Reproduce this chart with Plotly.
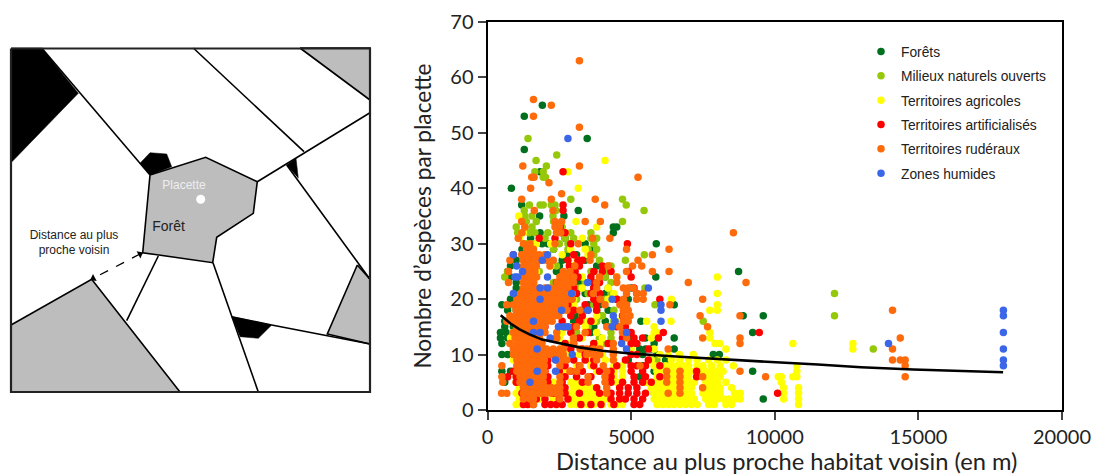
import plotly.graph_objects as go

# ---- scatter values: {species count per plot: [distances in m]} ----
forets = {
 55:[1910],53:[1280],49:[3470],47:[1280],43:[1830],40:[830],37:[1190],36:[3160],35:[1815,2660],
 33:[4380,4500],32:[4380,1830,2600],31:[1500,2700],30:[5875,2100,3400,1900],29:[1200,2300,3700],28:[1500,2750,3100],
 27:[2600,3400,1000],26:[2500,3800,800],25:[8740,700,2400,3700],24:[5860,800,3000,4100],23:[1000,2450,3200],
 22:[1000,3700,5000],21:[1000,3400,4100],20:[4000,4500,4900,800],19:[6500,500,900,3500,3900],18:[700,3300,4200,1000],
 17:[8900,9600,3100,3900],16:[5340,3000,4100,600],15:[600,900,3700,4200],14:[9230,450,650,3600,4900],
 13:[6500,450,700,3900,5000,5500],12:[5100,5800,500,800,3800],11:[5700,5500,5300,6500],10:[500,700,7860,8070,5400,5900],
 9:[5700,6200,4900],8:[5400,6000],7:[9230,500,800,5800],6:[6000,5300],5:[6000,600],4:[6100],3:[6000],2:[9600],
}
milieux = {
 49:[1410],46:[2410],45:[1690],44:[2050],43:[1650,1940],42:[1940,2020],38:[2900,4700],37:[1460,1830,1940,2220,2350,4830],
 36:[1280,2380,5450],35:[2280,1300,1550],34:[4700,1350,2300,1700],33:[1000,1300,1550,2400,2600],32:[1050,1450,1650,2100,2900,3600],
 31:[1100,2000,2700,3000,3600,3800],30:[1350,1600,2500,2800,3700],29:[1500,2300,2800,3500,3800],28:[1300,1600,2000,5460,3700],
 27:[1250,1500,1800,3900,4800],26:[4200,4300,2400],25:[1600,1800,3600,4200,700],24:[600,1400,2700,4100],23:[2300,3400,4300],
 22:[5480,3200,4200],21:[4300,3500,12080],20:[3100,4100],19:[5830,3700,1300],18:[3000,4400,3800],17:[4000,12080],16:[7510,3800,4400,3300],
 15:[4300,3500],14:[4300,3100],13:[3900,4300],12:[4100,3700],11:[13430,3600],10:[4000],9:[5900],5:[6200,5500],3:[5800,6000],
}
agricoles = {
 45:[4090],43:[2800],40:[3160],35:[1085],34:[3080],33:[3800],32:[2700,1250],31:[1100,3300],30:[2200,1700],29:[2900,3400],28:[3500,2600],
 27:[1300,3100],26:[2200,3000],25:[1700,4000],24:[8000,1500,3300,4500],23:[2500,3800],22:[1800,3300,4200],21:[8000,1600,4400,2500],
 20:[6400,3000,2700,4200],19:[8000,2600,2800,3000],18:[7740,8000,1500,2200],17:[1700,3300,3800,4700],16:[6390,5540,3500,3700,2000,4600],
 15:[3400,2900,5800],14:[7740,2600,3800,5800,5900,900,1000],13:[7740,800,2500,3300,4000,5700],12:[7920,8090,10630,12720,2800,3900,900],
 11:[8300,12720,2600,3800,5000,5800],10:[6680,7160,2800,3200,3700,4000,6000,6300],9:[8300,6400,6700,7000,7300,7700,8000,3500,4100,4400,5700,900],
 8:[8560,1200,3100,3600,4400,4700,5800,6000,6200,6400,6600,6800,7000,7300,7500,7800,8100,10770],
 7:[1100,2700,3800,4400,4700,5900,6000,6200,6400,6600,6800,7000,7200,7400,7600,7800,8000,8200,10770],
 6:[1000,2100,3100,4400,4700,5900,6200,6400,6600,6800,7000,7300,7500,7700,7900,8100,10120,10230,10630,10770],
 5:[1000,1300,2300,2900,3100,3500,4500,4700,5500,5800,6000,6200,6400,6600,6800,7000,7200,7600,7800,8000,8300,10230],
 4:[1100,2100,2500,3000,3200,3400,3600,3800,4600,5700,5900,6100,6300,6500,6700,6900,7100,7500,7700,7900,8100,8500,10310,10830],
 3:[1000,2000,2800,3000,3200,3400,3600,3800,4100,5800,5900,6100,6300,6500,6700,6900,7100,7500,7700,7900,8100,8600,8800,10310,10830],
 2:[1100,1800,2300,3000,3200,3400,3600,3800,4000,4200,4600,5800,6000,6200,6400,6600,6800,7000,7200,7600,7800,8000,8200,8400,8600,8800,10310,10830],
 1:[1000,1200,1500,2400,2900,3100,3300,3500,3700,4000,4300,4500,4700,5900,6100,6300,6500,6700,6900,7100,7300,7700,7900,8300,8500,10830],
}
artificialises = {
 43:[2630],37:[2630],36:[2630],33:[2530],32:[2700],31:[1800,2350],30:[4870,2900],28:[900,3000],27:[2800,3150,3300],26:[2850,3200,4000],
 25:[3050,3700,4000,4300,4900],24:[2900,3150,3600,5000],23:[2400,2950,3700,3900],22:[3000,3700,5100],21:[3100,3600,3900,5200],
 20:[6000,2900,3700,4500],19:[2800,3400,3800],18:[2100,3000,3500,3800],17:[2300,2900,3300,4700],16:[2600,3200,3600],
 15:[2000,2700,3000,4500,4800],14:[6120,2900,3500,5000,9460],13:[5950,2400,3200,4700,5100,5400],12:[2700,3000,3700,4200,5000,5200],
 11:[1900,2900,3300,3600,5600],10:[2300,2600,3400,3700,5000,5200],9:[1950,2100,3000,3400,3700,4800,5600],
 8:[1700,2100,2700,3200,3700,4500,5000,5200,5500,6000],7:[900,1000,2000,2500,2900,3300,3900,4300,5000,5400,7280],
 6:[700,1000,2100,2700,3100,3600,4300,5100,5500,6000,7280],5:[1000,2100,2600,3300,4300,4700,5100,5400,5700],
 4:[2200,2700,3800,4600,4900,5200],3:[1200,1600,1900,2300,2700,3200,3900,4300,4600,4900,5200,5500,10100],
 2:[1300,1500,1700,2000,2500,2800,4300,4600,4800,5100,5400],1:[1250,1400,1600,2000,2200,2400,2600,3250,3600,3950,4400,5100,5300],
}
ruderaux = {
 63:[3200],56:[1600],55:[2220],53:[1600],51:[3200],44:[1230,3200],42:[1540,1620,5240],41:[2140],40:[1500],39:[2580],
 38:[1190,2220,3750],37:[4080],36:[1630,2280],34:[1190,2350,2580,3400,3930],33:[1300,2350,2500],32:[1200,2400,2550,8560],
 31:[1070,3660,4260],30:[1250,1480,2350,3160],29:[1360,1600,4840,6320],28:[1190,1350,1500,1650,1800,2000,5740,3600],
 27:[780,1250,1450,1650,1850,2050,2290,3570,5240],26:[1250,1370,1480,1700,2175,3040,4200,5050,5370],
 25:[730,1250,1370,1480,1650,2640,2870,4840,5740,6320],24:[1250,1370,1480,1710,2520,2750,3000,3900,4500],
 23:[730,1250,1430,1610,2420,2640,2850,2990,3800,4500,6990,9000],
 22:[1250,1420,1600,1800,2000,2175,2350,2520,2640,2800,3800,4730,4900,5075],
 21:[1150,1330,1500,1680,1850,2000,2150,2350,2550,2750,2950,3680,4840,5190,5420],
 20:[1020,1180,1350,1520,1680,1830,2000,2150,2300,2480,2650,2800,2950,3920,4730,5190,5420,7490],
 19:[670,900,1100,1260,1420,1580,1740,1900,2060,2220,2380,2540,2700,4090,4610,4840,6350],
 18:[1000,1170,1330,1500,1660,1820,1980,2140,2300,2460,2620,2760,3220,4730,4900,14100],
 17:[780,1000,1170,1340,1500,1670,1840,2000,2170,2330,2480,4730,4960,7400,8790],
 16:[670,900,1080,1250,1420,1590,1750,1920,2080,2250,4730,4900],
 15:[1020,1180,1340,1500,1660,1820,1980,2760,3100,4150,4600,7660],
 14:[900,1060,1220,1380,1540,1700,2000,2410,3400,4700],
 13:[960,1130,1300,1470,1640,1810,2410,2990,4840,7490,8790,14370],
 12:[780,1020,1180,1350,1520,1690,1900,2990,4380,8790],
 11:[900,1060,1220,1380,1540,1700,1860,2060,2290,2520,2640,3220,3450,3680,3910,4380,6290,14100],
 10:[900,1060,1220,1380,1540,1700,1860,2000,2180,2410,2640,3450,3680,3910,4380],
 9:[1020,1180,1340,1500,1660,1820,1980,2410,2640,2760,3800,4380,14100,14370,14540],
 8:[500,1020,1180,1340,1500,1660,1820,1980,2520,3220,4030,5310,14540],
 7:[1020,1180,1340,1500,1660,1820,1980,2870,3100,4150,6240,6700,8790],
 6:[500,1130,1290,1450,1610,1770,1940,2520,3500,4090,6240,6700,7490,9680,14540],
 5:[530,1130,1290,1450,1610,1770,1940,2520,3500,4090,6240,6700],
 4:[1250,1410,1570,1730,1890,2050,2210,2410,2520,4150,6700,7490],
 3:[490,670,1250,1410,1570,1730,1890,2050,2210,2410,2520,4150,6290,6700],
 2:[1250,1480,1600,2520],1:[1600],
}
humides = {
 49:[2800],28:[900,2090],27:[1910],26:[1015],25:[1220],24:[960,1050,2090],23:[3490],22:[1830,2090,5600],21:[900,2930],20:[1830,4340],
 19:[6040],18:[2580,3490,6040,17960],17:[4380,17960],16:[1600,4440,6040],15:[2470,2640,2810,4340],14:[1600,1830,4840,17960],
 13:[2180],12:[4670,13960],11:[1730,4840,17960],10:[2950],9:[2370,17960],8:[17960],7:[1730,2370],5:[1480],
}
tendance_x = [460, 800, 1100, 1480, 1900, 2410, 3200, 4000, 4960, 6700, 8200, 9720, 11500, 13000, 14820, 16500, 17950]
tendance_y = [17.1, 15.6, 14.6, 13.6, 12.7, 12.1, 11.3, 10.7, 10.2, 9.6, 9.1, 8.7, 8.2, 7.7, 7.3, 7.1, 6.8]

noms = ["Forêts", "Milieux naturels ouverts", "Territoires agricoles",
        "Territoires artificialisés", "Territoires rudéraux", "Zones humides"]
series = [forets, milieux, agricoles, artificialises, ruderaux, humides]
couleurs = ["#00701e", "#96c80a", "#ffff00", "#ff0000", "#ff6a0a", "#3b66e8"]
x_ticks = [0, 5000, 10000, 15000, 20000]
y_ticks = [0, 10, 20, 30, 40, 50, 60, 70]

# ---- left diagram, in picture pixels ----
cadre_x = [11, 370, 370, 11, 11]; cadre_y = [48.5, 48.5, 392, 392, 48.5]
noir = [
 ([11, 41.7, 78.3, 11], [48, 48, 93.3, 162.7]),
 ([140, 150, 166.7, 171.7, 150], [163.3, 152.7, 154, 166.7, 175]),
 ([286.7, 296, 298.3], [165, 158.3, 178.3]),
 ([231.7, 271.7, 258.3, 240], [316.7, 325, 338.3, 336.7]),
]
gris = [
 ([300, 370, 370], [48, 48, 100]),
 ([11, 91.7, 180, 11], [325, 279.3, 392, 392]),
 ([357.3, 370, 370, 327.3], [265, 279.3, 344, 334]),
 ([150, 205.7, 257.3, 253.3, 216.7, 212.7, 142.7], [175, 157.3, 181.7, 213.3, 237.3, 262.7, 252.7]),
]
traits = [
 ([41.7, 150], [48, 175]),
 ([193.3, 304], [48, 151.7]),
 ([257.3, 370], [181.7, 112.7]),
 ([286.7, 370], [165, 279.3]),
 ([213, 258.3], [262.7, 392]),
 ([158.3, 126.7], [256, 320.7]),
 ([271.7, 370], [325, 344]),
 ([231.7, 271.7], [316.7, 325]),
]
fleche_x = [140, 93.3]; fleche_y = [254, 278.3]

fig = go.Figure()

# scatter series
for nom, s, c in zip(noms, series, couleurs):
    xs = [x for y, lst in s.items() for x in lst]
    ys = [y for y, lst in s.items() for x in lst]
    fig.add_trace(go.Scatter(x=xs, y=ys, mode="markers", name=nom, legendgroup=nom,
                             marker=dict(color=c, size=7.5, line=dict(width=0))))
fig.add_trace(go.Scatter(x=tendance_x, y=tendance_y, mode="lines", showlegend=False,
                         line=dict(color="black", width=2.6)))

# diagram
def poly(px, py, col):
    fig.add_trace(go.Scatter(x=px, y=py, xaxis="x2", yaxis="y2", mode="lines", fill="toself",
                             fillcolor=col, showlegend=False, hoverinfo="skip",
                             line=dict(color="black", width=1.6 if col != "black" else 0.5)))
for p in noir:
    poly(p[0], p[1], "black")
for p in gris:
    poly(p[0] + p[0][:1], p[1] + p[1][:1], "#bdbdbd")
for t in traits:
    fig.add_trace(go.Scatter(x=t[0], y=t[1], xaxis="x2", yaxis="y2", mode="lines", showlegend=False,
                             hoverinfo="skip", line=dict(color="black", width=1.6)))
fig.add_trace(go.Scatter(x=cadre_x, y=cadre_y, xaxis="x2", yaxis="y2", mode="lines", showlegend=False,
                         hoverinfo="skip", line=dict(color="#222222", width=2.2)))
fig.add_trace(go.Scatter(x=fleche_x, y=fleche_y, xaxis="x2", yaxis="y2", mode="lines+markers", showlegend=False,
                         hoverinfo="skip", line=dict(color="black", width=1.3, dash="dash"),
                         marker=dict(symbol="triangle-up", size=7, color="black", angle=[62.5, -117.5])))
fig.add_trace(go.Scatter(x=[200.7], y=[199.3], xaxis="x2", yaxis="y2", mode="markers", showlegend=False,
                         hoverinfo="skip", marker=dict(color="white", size=9)))
fig.add_trace(go.Scatter(
    x=[184, 168.5, 74], y=[186, 227, 243.5], xaxis="x2", yaxis="y2", mode="text", showlegend=False, hoverinfo="skip",
    text=["Placette", "Forêt", "Distance au plus<br>proche voisin"],
    textfont=dict(family="Liberation Sans", size=[12, 14, 12], color=["#eeeeee", "#222222", "#222222"])))

W, H = 1093, 476
fig.update_layout(
    width=W, height=H, margin=dict(l=0, r=0, t=0, b=0), paper_bgcolor="white", plot_bgcolor="white",
    font=dict(family="Liberation Sans", color="#222222"),
    showlegend=True,
    legend=dict(x=861/W, y=1-36/H, xanchor="left", yanchor="top", bgcolor="rgba(0,0,0,0)",
                font=dict(size=13.8, color="#222222"), tracegroupgap=3.4, itemsizing="trace", itemwidth=30,
                traceorder="grouped"),
    xaxis=dict(domain=[487.5/W, 1062/W], range=[0, 20000], tickvals=x_ticks, tickformat="d", ticks="outside", ticklen=8, tickwidth=2,
               automargin=False, linecolor="black", linewidth=2, mirror=True, showgrid=False, zeroline=False, anchor="y",
               tickfont=dict(size=20, family="Lato", color="#222222")),
    yaxis=dict(domain=[(H-410)/H, (H-22)/H], range=[0, 70], tickvals=y_ticks, ticks="outside", ticklen=8, tickwidth=2,
               automargin=False, linecolor="black", linewidth=2, mirror=True, showgrid=False, zeroline=False, anchor="x",
               tickfont=dict(size=20, family="Lato", color="#222222"),
               title=dict(text="Nombre d’espèces par placette", standoff=12,
                          font=dict(size=22.7, family="Lato", color="#222222"))),
    xaxis2=dict(domain=[0, 400/W], range=[0, 400], visible=False, anchor="y2", fixedrange=True, automargin=False),
    yaxis2=dict(domain=[0, 1], range=[H, 0], visible=False, anchor="x2", fixedrange=True, automargin=False),
    annotations=[dict(text="Distance au plus proche habitat voisin (en m)", xref="paper", yref="paper",
                      x=786/W, y=1-461/H, xanchor="center", yanchor="middle", showarrow=False, borderpad=0,
                      font=dict(size=23.7, family="Lato", color="#222222"))],
)

fig.write_html("out.html", config=dict(displayModeBar=False),
               post_script="document.body.style.margin='0';document.documentElement.style.overflow='hidden';")
